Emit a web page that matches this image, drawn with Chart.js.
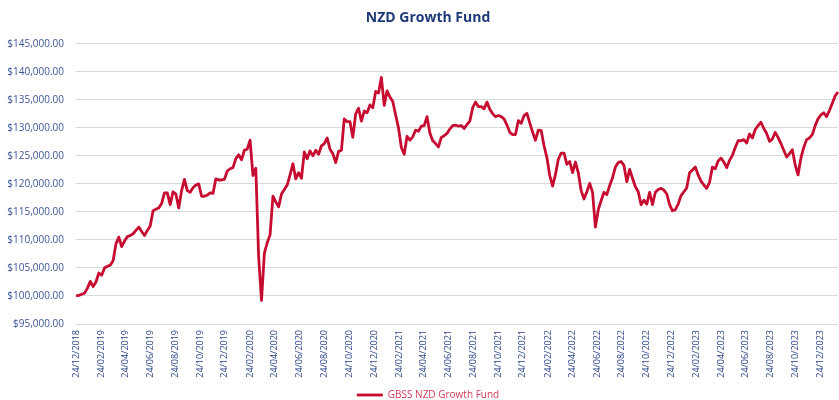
<!DOCTYPE html>
<html>
<head>
<meta charset="utf-8">
<title>NZD Growth Fund</title>
<script src="https://cdn.jsdelivr.net/npm/chart.js@4/dist/chart.umd.min.js"></script>
<style>
  html, body { margin: 0; padding: 0; background: #fff; }
  #wrap { width: 839px; height: 400px; }
</style>
</head>
<body>
<div id="wrap"><canvas id="fund-chart"></canvas></div>
<script>
// Weekly unit values of the fund, starting 24/12/2018 (one value per week).
const startDate = "24/12/2018";
const fundValues = [
  100000, 100100, 100300, 100500, 101400, 102600, 101700, 102500, 104100, 103700,
  105000, 105300, 105500, 106300, 109300, 110500, 108800, 109800, 110600, 110800,
  111100, 111700, 112300, 111500, 110800, 111700, 112500, 115200, 115500, 115700,
  116500, 118400, 118400, 116300, 118600, 118200, 115700, 118800, 120800, 118800,
  118500, 119300, 119800, 120000, 117800, 117800, 118000, 118400, 118300, 120900,
  120700, 120700, 120800, 122300, 122700, 122900, 124500, 125200, 124300, 126000,
  126200, 127800, 121500, 122800, 107000, 99200, 107600, 109500, 110900, 117800,
  116800, 115900, 118200, 119000, 119800, 121600, 123600, 120900, 122000, 121000,
  125700, 124500, 125900, 125000, 126000, 125300, 126800, 127200, 128200, 126200,
  125400, 123800, 125800, 126000, 131600, 131100, 131100, 128300, 132500, 133500,
  131200, 133000, 132700, 134100, 133600, 136500, 136200, 139000, 134000, 136600,
  135500, 134700, 132300, 130000, 126500, 125300, 128500, 127800, 128400, 129600,
  129400, 130300, 130400, 132000, 129100, 127700, 127200, 126600, 128300, 128600,
  129000, 129800, 130400, 130500, 130300, 130400, 129900, 130600, 131200, 133600,
  134600, 133800, 133800, 133400, 134600, 133300, 132500, 132000, 132200, 132000,
  131600, 130500, 129200, 128800, 128800, 131300, 130800, 132200, 132600, 130900,
  129200, 127800, 129600, 129500, 126800, 124700, 121500, 119600, 121700, 124400,
  125500, 125500, 123500, 124000, 122000, 123900, 122000, 118800, 117300, 118600,
  120100, 118500, 112300, 115400, 117000, 118500, 118100, 119700, 121100, 123000,
  123800, 124000, 123300, 120400, 122600, 121000, 119500, 118600, 116300, 117100,
  116400, 118500, 116300, 118500, 119000, 119200, 118900, 118200, 116300, 115200,
  115400, 116400, 117900, 118600, 119300, 122000, 122500, 123000, 121600, 120500,
  119800, 119200, 120300, 123000, 122700, 124100, 124600, 123900, 122900, 124200,
  125100, 126500, 127700, 127700, 127900, 127300, 128900, 128200, 129700, 130400,
  131000, 129900, 129000, 127600, 128000, 129200, 128300, 127200, 126000, 124800,
  125400, 126100, 123400, 121600, 124600, 126500, 127900, 128200, 128800, 130400,
  131600, 132300, 132700, 132000, 133100, 134400, 135700, 136400,
];

const xTickLabels = [
  "24/12/2018",
  "24/02/2019", "24/04/2019", "24/06/2019", "24/08/2019", "24/10/2019", "24/12/2019",
  "24/02/2020", "24/04/2020", "24/06/2020", "24/08/2020", "24/10/2020", "24/12/2020",
  "24/02/2021", "24/04/2021", "24/06/2021", "24/08/2021", "24/10/2021", "24/12/2021",
  "24/02/2022", "24/04/2022", "24/06/2022", "24/08/2022", "24/10/2022", "24/12/2022",
  "24/02/2023", "24/04/2023", "24/06/2023", "24/08/2023", "24/10/2023", "24/12/2023",
];

const yMin = 95000;
const yMax = 145000;
const yStep = 5000;
const seriesName = "GBSS NZD Growth Fund";

// days since the start date
function dayOffset(s) {
  const [d, m, y] = s.split("/").map(Number);
  const [d0, m0, y0] = startDate.split("/").map(Number);
  return Math.round((Date.UTC(y, m - 1, d) - Date.UTC(y0, m0 - 1, d0)) / 86400000);
}

const tickDays = xTickLabels.map(dayOffset);
const points = fundValues.map((v, i) => ({ x: i * 7, y: v }));
const money = (v) =>
  "$" + v.toLocaleString("en-US", { minimumFractionDigits: 2, maximumFractionDigits: 2 });

const FONT = "'Open Sans', 'Noto Sans', sans-serif";

new Chart(document.getElementById("fund-chart"), {
  type: "line",
  data: {
    datasets: [
      {
        label: seriesName,
        data: points,
        borderColor: "#C60C30",
        backgroundColor: "#C60C30",
        borderWidth: 2.8,
        pointRadius: 0,
        tension: 0,
        borderJoinStyle: "round",
      },
    ],
  },
  options: {
    responsive: true,
    maintainAspectRatio: false,
    animation: false,
    layout: { padding: { left: 18, right: 1, top: 0, bottom: 0 } },
    plugins: {
      title: {
        display: true,
        text: "NZD Growth Fund",
        color: "#1F3A78",
        font: { family: FONT, size: 14, weight: "bold" },
        padding: { top: 10, bottom: 17 },
      },
      legend: {
        position: "bottom",
        maxHeight: 14,
        labels: {
          color: "#D33A58",
          font: { family: FONT, size: 10 },
          usePointStyle: true,
          pointStyle: "line",
          pointStyleWidth: 26,
          padding: 4,
        },
      },
      tooltip: { enabled: false },
    },
    scales: {
      x: {
        type: "linear",
        bounds: "data",
        grid: { display: false, drawTicks: false },
        border: { display: false },
        afterFit: (s) => { s.height = 62; },
        afterBuildTicks: (s) => {
          s.ticks = tickDays.map((d) => ({ value: d }));
        },
        ticks: {
          autoSkip: false,
          minRotation: 90,
          maxRotation: 90,
          padding: 6,
          color: "#2A4689",
          font: { family: FONT, size: 9 },
          callback: (v) => xTickLabels[tickDays.indexOf(v)] || "",
        },
      },
      y: {
        min: yMin,
        max: yMax,
        afterFit: (s) => {
          s.width = 58;
          // labels reach into the left padding; don't clip them to the axis box
          s._computeLabelArea = () => undefined;
        },
        grid: { color: "#D9D9D9", drawTicks: false },
        border: { display: false },
        ticks: {
          stepSize: yStep,
          padding: 12,
          color: "#3A5596",
          font: { family: FONT, size: 10 },
          callback: (v) => money(v),
        },
      },
    },
  },
});
</script>
</body>
</html>
